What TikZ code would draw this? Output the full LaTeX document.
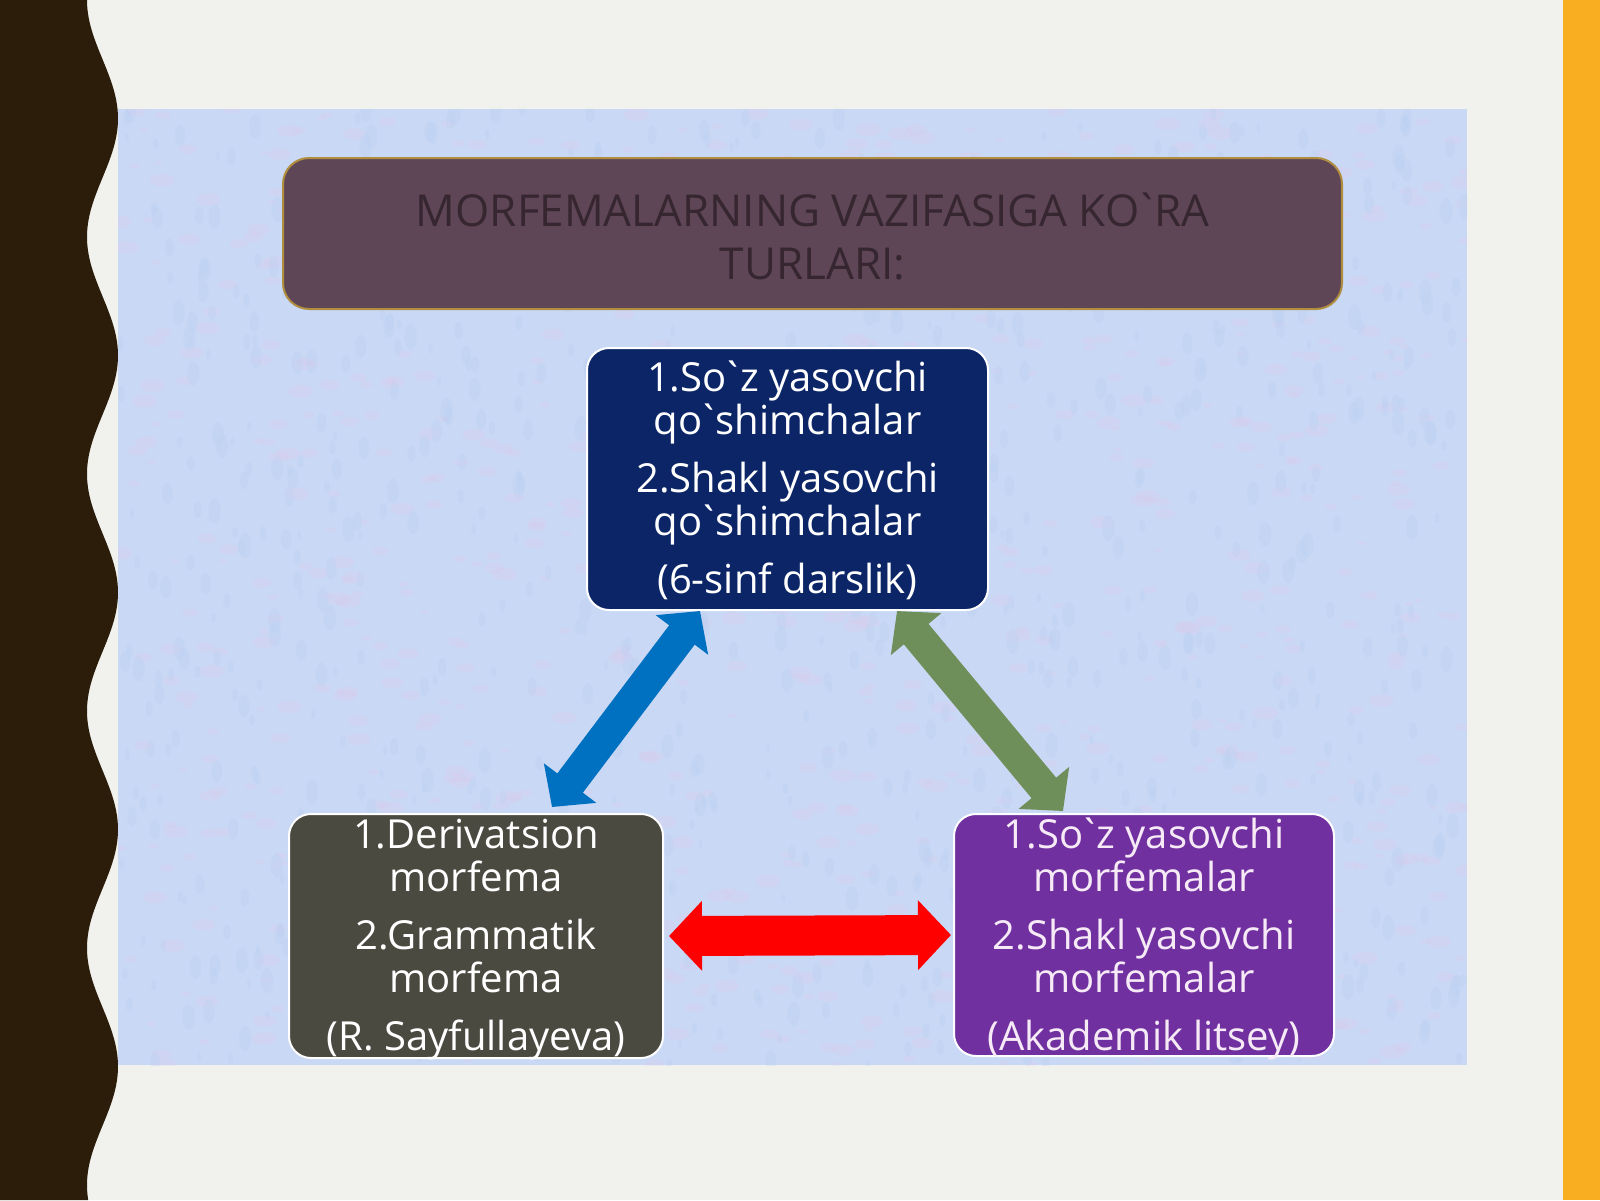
\documentclass[tikz,border=0pt]{standalone}
\usepackage{fontspec}
\setmainfont{Open Sans}[Ligatures=TeXOff]
\usetikzlibrary{arrows.meta}
\definecolor{bgc}{HTML}{F1F2EE}
\definecolor{orangebar}{HTML}{F9AE22}
\definecolor{darkband}{HTML}{2B1D0A}
\definecolor{panelc}{HTML}{C9D8F4}
\definecolor{pinkblob}{HTML}{E0C8EA}
\definecolor{blueblob}{HTML}{B5CDF3}
\definecolor{titlefill}{HTML}{5E4657}
\definecolor{titleedge}{HTML}{B08E3E}
\definecolor{titletext}{HTML}{36262F}
\definecolor{navyc}{HTML}{0B2566}
\definecolor{olivec}{HTML}{4A4A41}
\definecolor{purplec}{HTML}{7030A0}
\definecolor{purpletext}{HTML}{F6EAF6}
\definecolor{arrblue}{HTML}{0070C0}
\definecolor{arrgreen}{HTML}{6F8F5A}
\definecolor{arrred}{HTML}{FF0000}
\newcommand{\gr}{\kern-0.12em`\kern-0.12em}
\tikzset{
  box/.style={rounded corners=22pt, draw=white, line width=2pt, inner sep=0pt},
  boxtext/.style={align=center, inner sep=0pt, text=white, font=\fontsize{40}{43}\selectfont},
  titlebox/.style={rounded corners=26pt, draw=titleedge, line width=2pt, fill=titlefill, inner sep=0pt},
  titletxt/.style={align=center, inner sep=0pt, text=titletext, font=\fontsize{44}{53}\selectfont},
  dblarrow/.style={line width=32pt, {Triangle[length=30pt,width=64pt]}-{Triangle[length=30pt,width=64pt]}},
  redarrow/.style={line width=40pt, {Triangle[length=33pt,width=68pt]}-{Triangle[length=33pt,width=68pt]}}
}
\begin{document}
\begin{tikzpicture}[x=1pt,y=-1pt]
\useasboundingbox (0,0) rectangle (1600,1200);
\fill[bgc] (0,0) rectangle (1600,1200);
\fill[orangebar] (1563,0) rectangle (1600,1200);
\fill[darkband] (0,0) -- plot[domain=0:1200,samples=241,smooth] ({102.5-15.5*cos(1.519*\x)},\x) -- (0,1200) -- cycle;
% textured panel
\fill[panelc] (118,109) rectangle (1467,1065);
\begin{scope}
\clip (118,109) rectangle (1467,1065);
\pgfmathsetseed{17}
\foreach \i in {1,...,900}{
  \pgfmathsetmacro\px{118+1349*rnd}
  \pgfmathsetmacro\py{109+956*rnd}
  \pgfmathsetmacro\rr{4+9*rnd}
  \fill[pinkblob, opacity=0.22] (\px,\py) ellipse [x radius=\rr, y radius=0.5*\rr];
}
\foreach \i in {1,...,900}{
  \pgfmathsetmacro\px{118+1349*rnd}
  \pgfmathsetmacro\py{109+956*rnd}
  \pgfmathsetmacro\rr{4+9*rnd}
  \fill[blueblob, opacity=0.22] (\px,\py) ellipse [x radius=0.5*\rr, y radius=\rr];
}
\end{scope}
% title
\node[titlebox, minimum width=1059pt, minimum height=151pt] (title) at (812.5,233.5) {};
\node[titletxt] (titlet) at ([yshift=-3pt]title.center)
  {MORFEMALARNING VAZIFASIGA KO\gr RA\\TURLARI:};
% boxes
\node[box, fill=navyc, minimum width=401pt, minimum height=262pt] (top) at (787.5,479) {};
\node[boxtext] (topt) at ([yshift=-1pt]top.center)
  {1.So\gr z yasovchi\\qo\gr shimchalar\\[15pt]2.Shakl yasovchi\\qo\gr shimchalar\\[15pt](6-sinf darslik)};
\node[box, fill=olivec, minimum width=374pt, minimum height=244pt] (bl) at (476,936) {};
\node[boxtext] (blt) at ([yshift=-4pt]bl.center)
  {1.Derivatsion\\morfema\\[15pt]2.Grammatik\\morfema\\[15pt](R. Sayfullayeva)};
\node[box, fill=purplec, minimum width=380pt, minimum height=242pt] (br) at (1144,935) {};
\node[boxtext, text=purpletext] (brt) at ([yshift=-4pt]br.center)
  {1.So\gr z yasovchi\\morfemalar\\[15pt]2.Shakl yasovchi\\morfemalar\\[15pt](Akademik litsey)};
% arrows
\draw[dblarrow, arrblue] ([xshift=114pt]top.south west) -- ([xshift=264pt,yshift=6pt]bl.north west);
\draw[dblarrow, arrgreen] ([xshift=311pt]top.south west) -- ([xshift=110pt,yshift=2pt]br.north west);
\draw[redarrow, arrred] ([xshift=5pt]bl.east) -- ([xshift=-2pt]br.west);
\end{tikzpicture}
\end{document}
